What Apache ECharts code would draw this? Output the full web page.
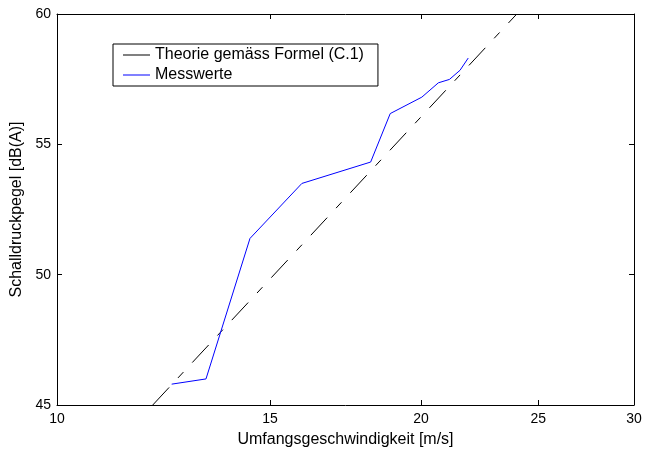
<!DOCTYPE html>
<html lang="de">
<head>
    <meta charset="UTF-8">
    <title>Schalldruckpegel</title>
    <style>
        body { margin: 0; background: #fff; }
        #chart { width: 651px; height: 453px; }
    </style>
</head>
<body>
    <div id="chart"></div>
    <script src="https://cdn.jsdelivr.net/npm/echarts@6/dist/echarts.min.js"></script>
    <script>
        // Umfangsgeschwindigkeit [m/s] / Schalldruckpegel [dB(A)]
        var xTicks = [10, 15, 20, 25, 30];
        var yTicks = [45, 50, 55, 60];

        // Theorie gemäss Formel (C.1): Endpunkte der Geraden
        var theorieV = [12.0, 24.0];
        var theorieL = [45.0, 60.0];

        // Messwerte
        var messV = [12.44, 13.28, 14.44, 15.94, 18.17, 18.86, 20.03, 20.67, 21.11, 21.54, 21.88];
        var messL = [45.8, 46.0, 51.39, 53.5, 54.32, 56.18, 56.81, 57.36, 57.49, 57.84, 58.31];

        var seriesNames = ['Theorie gemäss Formel (C.1)', 'Messwerte'];

        function pairs(xs, ys) {
            return xs.map(function (x, i) { return [x, ys[i]]; });
        }

        var font = 'Liberation Sans, Arial, sans-serif';
        var myChart = echarts.init(document.getElementById('chart'));

        var tickStyle = { show: true, inside: true, length: 5, lineStyle: { color: '#000', width: 1 } };

        var option = {
            animation: false,
            textStyle: { fontFamily: font },
            grid: { left: 57, right: 17, top: 14, bottom: 47 },
            legend: {
                show: true,
                left: 113,
                top: 44,
                orient: 'vertical',
                borderColor: '#000',
                borderWidth: 1,
                padding: [3, 14, 3, 10],
                icon: 'rect',
                itemWidth: 27,
                itemHeight: 1,
                itemGap: 4,
                textStyle: { fontFamily: font, fontSize: 16, color: '#000' },
                data: seriesNames
            },
            xAxis: [{
                type: 'log',
                min: xTicks[0],
                max: xTicks[xTicks.length - 1],
                name: 'Umfangsgeschwindigkeit [m/s]',
                nameLocation: 'middle',
                nameGap: 27,
                nameTextStyle: { fontSize: 16, color: '#000' },
                axisLine: { show: true, lineStyle: { color: '#000', width: 1 } },
                axisTick: Object.assign({ customValues: xTicks }, tickStyle),
                axisLabel: { customValues: xTicks, fontSize: 14, color: '#000', margin: 7 },
                splitLine: { show: false }
            }, {
                type: 'log',
                position: 'top',
                min: xTicks[0],
                max: xTicks[xTicks.length - 1],
                axisLine: { show: true, onZero: false, lineStyle: { color: '#000', width: 1 } },
                axisTick: Object.assign({ customValues: xTicks }, tickStyle),
                axisLabel: { show: false },
                splitLine: { show: false }
            }],
            yAxis: [{
                type: 'value',
                min: yTicks[0],
                max: yTicks[yTicks.length - 1],
                interval: 5,
                name: 'Schalldruckpegel [dB(A)]',
                nameLocation: 'middle',
                nameGap: 30,
                nameTextStyle: { fontSize: 16, color: '#000' },
                axisLine: { show: true, lineStyle: { color: '#000', width: 1 } },
                axisTick: tickStyle,
                axisLabel: { fontSize: 14, color: '#000', margin: 6 },
                splitLine: { show: false }
            }, {
                type: 'value',
                position: 'right',
                min: yTicks[0],
                max: yTicks[yTicks.length - 1],
                interval: 5,
                axisLine: { show: true, onZero: false, lineStyle: { color: '#000', width: 1 } },
                axisTick: tickStyle,
                axisLabel: { show: false },
                splitLine: { show: false }
            }],
            series: [{
                name: seriesNames[0],
                type: 'line',
                symbol: 'none',
                color: '#000',
                lineStyle: { color: '#000', width: 1, type: [24, 13, 8, 13] },
                data: pairs(theorieV, theorieL)
            }, {
                name: seriesNames[1],
                type: 'line',
                symbol: 'none',
                color: '#0000ff',
                lineStyle: { color: '#0000ff', width: 1 },
                data: pairs(messV, messL)
            }]
        };

        myChart.setOption(option);
    </script>
</body>
</html>
